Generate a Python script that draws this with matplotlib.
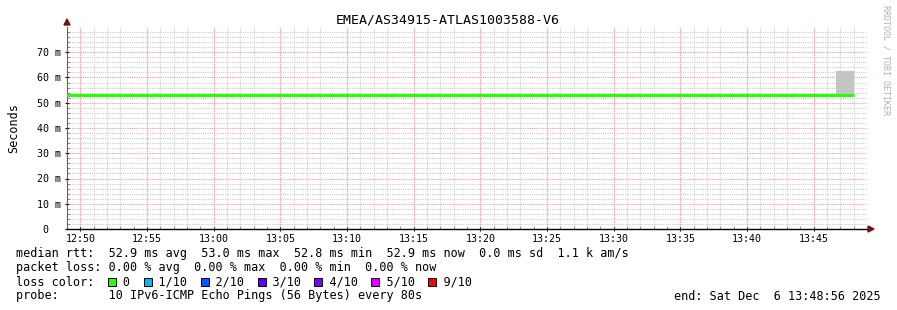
#!/usr/bin/env python3
import numpy as np
import matplotlib
matplotlib.use('Agg')
import matplotlib.pyplot as plt
from matplotlib.patches import Rectangle, Polygon

# time axis: seconds after 12:49:00, one sample every 80 s
step_s = 80
first_edge = -59
median_ms = [52.9, 52.9, 52.9, 52.9, 52.9, 52.9,
             53.0, 53.0, 53.0,
             52.9, 52.9, 52.9, 52.9, 52.9, 52.9, 52.9, 52.9,
             53.0,
             52.9, 52.9, 52.9, 52.9, 52.9, 52.9,
             53.0, 53.0,
             52.9, 52.9, 52.9,
             53.0, 53.0,
             52.9,
             53.0, 53.0,
             52.9, 52.9, 52.9, 52.9,
             53.0, 53.0,
             52.9, 52.9, 52.9, 52.9, 52.9]
ping_min = [52.6] * 44 + [52.7]
ping_max = [53.2, 53.1, 53.2, 53.2, 53.1, 53.2, 53.3, 53.2, 53.3,
            53.2, 53.1, 53.2, 53.2, 53.1, 53.2, 53.2, 53.1, 53.3,
            53.2, 53.1, 53.2, 53.2, 53.1, 53.2, 53.3, 53.3, 53.2,
            53.1, 53.2, 53.3, 53.3, 53.2, 53.3, 53.3, 53.2, 53.1,
            53.2, 53.2, 53.3, 53.3, 53.2, 53.1, 53.2, 53.1, 62.6]

xtick_labels = ['12:50', '12:55', '13:00', '13:05', '13:10', '13:15',
                '13:20', '13:25', '13:30', '13:35', '13:40', '13:45']
ytick_ms = [0, 10, 20, 30, 40, 50, 60, 70]

loss_labels = ['0', '1/10', '2/10', '3/10', '4/10', '5/10', '9/10']
loss_colors = ['#26ff00', '#00b8ff', '#0059ff', '#5e00ff', '#7e00ff', '#dd00ff', '#ff0000']

title = 'EMEA/AS34915-ATLAS1003588-V6'
rtt_line = 'median rtt:  52.9 ms avg  53.0 ms max  52.8 ms min  52.9 ms now  0.0 ms sd  1.1 k am/s'
loss_line = 'packet loss: 0.00 % avg  0.00 % max  0.00 % min  0.00 % now'
probe_line = 'probe:       10 IPv6-ICMP Echo Pings (56 Bytes) every 80s'
end_text = 'end: Sat Dec  6 13:48:56 2025'

W, H = 897, 310
mono = 'DejaVu Sans Mono'
plt.rcParams['font.family'] = mono

fig = plt.figure(figsize=(W / 100, H / 100), dpi=100)
fig.patch.set_facecolor('white')
ax = fig.add_axes([67 / W, (H - 229) / H, 800 / W, 202 / H])
ax.set_facecolor('white')

edges = first_edge + step_s * np.arange(len(median_ms) + 1)
med = np.append(median_ms, median_ms[-1])
lo = np.append(ping_min, ping_min[-1])
hi = np.append(ping_max, ping_max[-1])

ax.fill_between(edges, lo, hi, step='post', color='#c4c4c4', lw=0, zorder=2)
ax.step(edges, med, where='post', color=loss_colors[0], lw=2.2,
        solid_capstyle='butt', zorder=3)

ax.set_xlim(0, 3600)
ax.set_ylim(0, 80)

# grid
for m in range(1, 60):
    if m % 5 != 0:
        ax.axvline(m * 60, color='#cccccc', lw=0.8, ls=(0, (1, 1)), zorder=1)
for v in range(2, 80, 2):
    if v % 10 != 0:
        ax.axhline(v, color='#cccccc', lw=0.8, ls=(0, (1, 1)), zorder=1)
xt = [60 + 300 * i for i in range(len(xtick_labels))]
for x in xt:
    ax.axvline(x, color='#ff9a9a', lw=0.8, ls=(0, (1, 1)), zorder=1)
for v in ytick_ms[1:]:
    ax.axhline(v, color='#ff9a9a', lw=0.8, ls=(0, (1, 1)), zorder=1)

ax.set_xticks(xt)
ax.set_xticklabels(xtick_labels)
ax.set_xticks([m * 60 for m in range(1, 60)], minor=True)
ax.set_yticks(ytick_ms)
ax.set_yticklabels([f'{v} m' if v else '0  ' for v in ytick_ms])
ax.set_yticks(list(range(2, 80, 2)), minor=True)
ax.tick_params(axis='both', which='major', labelsize=7.2, length=3, width=0.8,
               colors='#000000', direction='inout')
ax.tick_params(axis='both', which='minor', length=2, width=0.6,
               colors='#808080', direction='in')
ax.tick_params(axis='x', which='major', pad=2)
ax.tick_params(axis='y', which='major', pad=3)

for s in ['top', 'right']:
    ax.spines[s].set_visible(False)
ax.spines['left'].set_color('#606060')
ax.spines['left'].set_linewidth(0.8)
ax.spines['bottom'].set_color('#000000')
ax.spines['bottom'].set_linewidth(1.0)

ax.set_ylabel('Seconds', fontsize=8.5, labelpad=12)

# arrows at axis ends
def px(x, y):
    return (x / W, (H - y) / H)

fig.add_artist(Polygon([px(64, 25), px(70, 25), px(67, 19)], closed=True,
                       color='#7a1010', transform=fig.transFigure))
fig.add_artist(Polygon([px(868, 226), px(868, 232), px(874, 229)], closed=True,
                       color='#7a1010', transform=fig.transFigure))

fig.text(448 / W, 1 - 20 / H, title, ha='center', va='center', fontsize=9.5)
fig.text(886 / W, 1 - 5 / H, 'RRDTOOL / TOBI OETIKER', rotation=-90,
         ha='center', va='top', fontsize=6, color='#b0b0b0')

fs = 8.5
cw = 0.602 * fs * 100 / 72
x0 = 16
fig.text(x0 / W, 1 - 254 / H, rtt_line, ha='left', va='center', fontsize=fs)
fig.text(x0 / W, 1 - 268 / H, loss_line, ha='left', va='center', fontsize=fs)

s = 'loss color:  '
box_cols = []
for i, lab in enumerate(loss_labels):
    box_cols.append(len(s))
    s += '  ' + lab + ('  ' if i < len(loss_labels) - 1 else '')
fig.text(x0 / W, 1 - 282 / H, s, ha='left', va='center', fontsize=fs)
for c, col in zip(box_cols, loss_colors):
    bx = x0 + c * cw
    fig.add_artist(Rectangle(((bx) / W, (H - 286) / H), 8 / W, 8 / H,
                             facecolor=col, edgecolor='black', lw=0.7,
                             transform=fig.transFigure))

fig.text(x0 / W, 1 - 296 / H, probe_line, ha='left', va='center', fontsize=fs)
fig.text(881 / W, 1 - 296 / H, end_text, ha='right', va='center', fontsize=fs)

fig.savefig('out.png', dpi=100)
